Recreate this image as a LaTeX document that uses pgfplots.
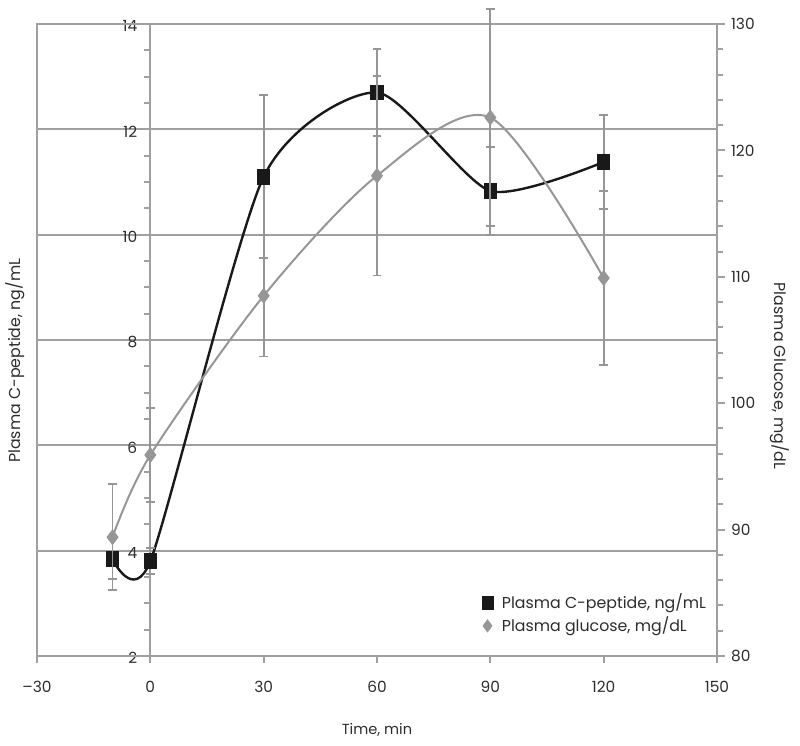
\documentclass[border=0pt]{standalone}
\usepackage{fontspec}
\setmainfont{Poppins}
\usepackage{pgfplots}
\pgfplotsset{compat=1.18}
\usepackage{pgfplotstable}

\definecolor{gridgray}{RGB}{160,160,160}
\definecolor{glugray}{RGB}{150,150,150}
\definecolor{cpblack}{RGB}{25,25,25}
\definecolor{txt}{RGB}{45,45,45}

% time (min), C-peptide (ng/mL), SE
\pgfplotstableread{
t    v      e
-10  3.84   0.38
0    3.80   0.25
30   11.10  1.55
60   12.70  0.83
90   10.83  0.83
120  11.38  0.89
}\cpeptide

% time (min), glucose (mg/dL), SE
\pgfplotstableread{
t    v      e
-10  89.4   4.2
0    95.9   3.7
30   108.5  4.8
60   118.0  7.9
90   122.6  8.6
120  109.9  6.9
}\glucose

\begin{document}
\begin{tikzpicture}[font=\fontsize{7.3}{8.5}\selectfont, text=txt]
\useasboundingbox (-18.5pt,-45pt) rectangle (381.5pt,328pt);
\pgfplotsset{
  width=340pt, height=316pt, scale only axis,
  xmin=-30, xmax=150,
  clip=false,
  /pgf/number format/assume math mode=true,
  tick style={gridgray, line width=1pt},
  tick label style={font=\fontsize{7.7}{9}\selectfont},
}

\begin{axis}[
  axis x line=bottom,
  axis y line=middle,
  axis line style={-, draw=gridgray, line width=1pt},
  hide obscured y ticks=false,
  ymin=2, ymax=14,
  ytick={2,4,...,14},
  minor y tick num=3,
  xtick={-30,0,...,150},
  xticklabels={\textendash30,0,30,60,90,120,150},
  tick align=outside,
  major y tick style={draw=none},
  minor tick length=3pt,
  major tick length=3.5pt,
  ymajorgrids=true,
  grid style={gridgray, line width=1pt},
  xticklabel style={anchor=center, yshift=-12pt},
  yticklabel style={anchor=east, xshift=0.5pt, yshift=-1pt},
  every axis y label/.style={at={(axis description cs:0,0.467)}, xshift=-11pt, rotate=90,
    font=\fontsize{7.9}{9}\selectfont},
  every axis x label/.style={at={(axis description cs:0.5,0)}, yshift=-37pt},
  ylabel={Plasma C-peptide, ng/mL},
  xlabel={Time, min},
]
\draw[gridgray, line width=1pt] (axis cs:-30,2) rectangle (axis cs:150,14);
\addplot[cpblack, line width=1.2pt, smooth, tension=0.4,
  mark=square*, mark size=2.7pt, mark options={solid, yscale=1.25},
  error bars/.cd, y dir=both, y explicit,
  error bar style={glugray, line width=0.9pt},
  error mark options={rotate=90, glugray, mark size=2.2pt, line width=0.9pt}]
  table[x=t, y=v, y error=e] {\cpeptide};
\end{axis}

\begin{axis}[
  axis y line*=right,
  axis x line=none,
  axis line style={-, draw=gridgray, line width=1pt},
  ymin=80, ymax=130,
  ytick={80,90,...,130},
  minor y tick num=4,
  tick align=outside,
  minor tick length=3pt,
  major tick length=4pt,
  yticklabel style={anchor=west, xshift=-0.5pt},
  every axis y label/.style={at={(axis description cs:1,0.443)}, xshift=31.5pt, rotate=-90,
    font=\fontsize{7.9}{9}\selectfont},
  ylabel={Plasma Glucose, mg/dL},
  legend style={draw=none, fill=none, font=\fontsize{7.9}{9.5}\selectfont,
    at={(axis description cs:0.654,0.105)}, anchor=north west,
    row sep=-1.5pt, inner sep=0pt,
    /tikz/every odd column/.append style={column sep=2.5pt}},
  legend cell align=left,
]
\addlegendimage{only marks, mark=square*, cpblack, mark size=2.7pt, mark options={yscale=1.25}}
\addlegendentry{Plasma C-peptide, ng/mL}
\addlegendimage{only marks, mark=diamond*, glugray, mark size=3pt}
\addlegendentry{Plasma glucose, mg/dL}
\addplot[glugray, line width=1pt, smooth, tension=0.5, forget plot,
  mark=diamond*, mark size=3.2pt, mark options={solid},
  error bars/.cd, y dir=both, y explicit,
  error bar style={glugray, line width=0.9pt},
  error mark options={rotate=90, glugray, mark size=2.2pt, line width=0.9pt}]
  table[x=t, y=v, y error=e] {\glucose};
\end{axis}
\end{tikzpicture}
\end{document}
